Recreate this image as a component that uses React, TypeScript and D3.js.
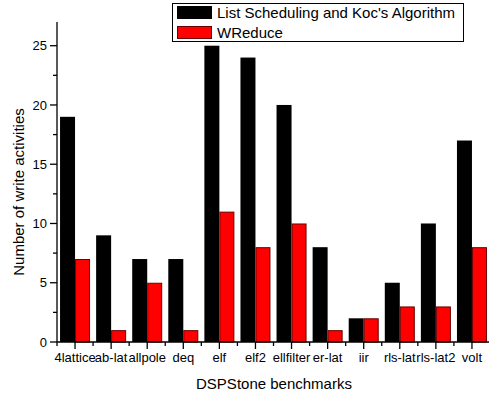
import React from "react";
import * as d3 from "d3";

const benchmarks = ["4lattice", "ab-lat", "allpole", "deq", "elf", "elf2", "ellfilter", "er-lat", "iir", "rls-lat", "rls-lat2", "volt"];
const listScheduling = [19, 9, 7, 7, 25, 24, 20, 8, 2, 5, 10, 17];
const wreduce = [7, 1, 5, 1, 11, 8, 10, 1, 2, 3, 3, 8];
const seriesNames = ["List Scheduling and Koc's Algorithm", "WReduce"];
const yMajorTicks = [0, 5, 10, 15, 20, 25];
const yMinorTicks = [2.5, 7.5, 12.5, 17.5, 22.5];

const W = 489;
const H = 394;
const left = 57;
const right = 490;
const top = 22;
const bottom = 342;
const font = "'Liberation Sans', Arial, sans-serif";

export default function App() {
  const x = d3.scaleBand<string>().domain(benchmarks).range([left, right]).paddingInner(0).paddingOuter(0);
  const y = d3.scaleLinear().domain([0, 27]).range([bottom, top]);
  const bw = 15;

  return (
    <svg width={W} height={H} style={{ position: "absolute", left: 0, top: 0 }} fontFamily={font}>
      <rect width={W} height={H} fill="#fff" />
      {benchmarks.map((b, i) => {
        const c = (x(b) as number) + x.bandwidth() / 2;
        return (
          <g key={b}>
            <rect x={c - bw} y={y(listScheduling[i])} width={bw} height={y(0) - y(listScheduling[i])} fill="#000" />
            <rect x={c + 0.5} y={y(wreduce[i]) + 0.5} width={bw - 1} height={y(0) - y(wreduce[i]) - 0.5} fill="#ff0000" stroke="#6a0000" strokeWidth={1} />
          </g>
        );
      })}
      {/* y axis */}
      <line x1={left} x2={left} y1={top} y2={bottom} stroke="#000" strokeWidth={1.3} />
      {yMajorTicks.map((t) => (
        <g key={t}>
          <line x1={left - 7} x2={left} y1={y(t)} y2={y(t)} stroke="#000" strokeWidth={1.3} />
          <text x={left - 10} y={y(t)} dy="0.35em" textAnchor="end" fontSize={13}>{t}</text>
        </g>
      ))}
      {yMinorTicks.map((t) => (
        <line key={t} x1={left - 4} x2={left} y1={y(t)} y2={y(t)} stroke="#000" strokeWidth={1.3} />
      ))}
      {/* x axis */}
      <line x1={left} x2={right} y1={bottom} y2={bottom} stroke="#000" strokeWidth={1.3} />
      {benchmarks.map((b) => {
        const c = (x(b) as number) + x.bandwidth() / 2;
        return (
          <g key={b}>
            <line x1={c} x2={c} y1={bottom} y2={bottom + 7} stroke="#000" strokeWidth={1.3} />
            <line x1={x(b) as number} x2={x(b) as number} y1={bottom} y2={bottom + 4} stroke="#000" strokeWidth={1.3} />
            <text x={c} y={362} textAnchor="middle" fontSize={13}>{b}</text>
          </g>
        );
      })}
      {/* titles */}
      <text x={274} y={389} textAnchor="middle" fontSize={15}>DSPStone benchmarks</text>
      <text transform={`translate(24,192) rotate(-90)`} textAnchor="middle" fontSize={15}>Number of write activities</text>
      {/* legend */}
      <rect x={172.5} y={3.5} width={291} height={38} fill="#fff" stroke="#000" strokeWidth={1} />
      <rect x={177} y={6} width={35} height={13} fill="#000" />
      <rect x={177.5} y={26.5} width={34} height={12} fill="#ff0000" stroke="#6a0000" strokeWidth={1} />
      <text x={217} y={18} fontSize={15}>{seriesNames[0]}</text>
      <text x={217} y={38} fontSize={15}>{seriesNames[1]}</text>
    </svg>
  );
}
